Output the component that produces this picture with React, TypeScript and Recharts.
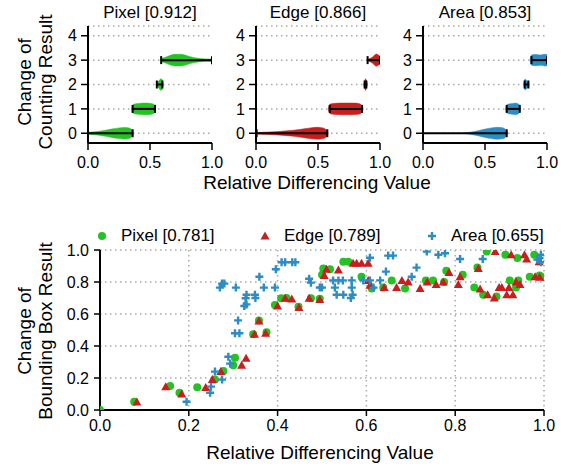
import { ComposedChart, ScatterChart, Scatter, Area, XAxis, YAxis, CartesianGrid } from 'recharts';

const FONT = '"Liberation Sans", Arial, Helvetica, sans-serif';
const GREEN = '#22c322';
const RED = '#c81e1e';
const BLUE = '#2b8dc4';
const GRID = '#aaaaaa';

const countLevels = [0, 1, 2, 3, 4];
const violinTicks = [0, 0.5, 1];
const scatterTicks = [0, 0.2, 0.4, 0.6, 0.8, 1];

// violin outlines: [relative differencing value, half width in count units]
const pixel0 = [[0, 0.04], [0.05, 0.06], [0.1, 0.09], [0.15, 0.13], [0.2, 0.18], [0.25, 0.22], [0.29, 0.24], [0.32, 0.23], [0.345, 0.18], [0.36, 0.1], [0.368, 0]];
const pixel1 = [[0.352, 0], [0.356, 0.12], [0.37, 0.19], [0.4, 0.22], [0.45, 0.24], [0.5, 0.23], [0.525, 0.2], [0.54, 0.13], [0.546, 0]];
const pixel2 = [[0.548, 0], [0.56, 0.08], [0.575, 0.17], [0.588, 0.24], [0.598, 0.2], [0.604, 0.1], [0.608, 0]];
const pixel3 = [[0.585, 0], [0.59, 0.06], [0.62, 0.11], [0.66, 0.19], [0.7, 0.24], [0.75, 0.24], [0.8, 0.18], [0.85, 0.11], [0.9, 0.07], [0.95, 0.05], [1, 0.05]];

const edge0 = [[0, 0.03], [0.1, 0.05], [0.2, 0.08], [0.3, 0.12], [0.4, 0.19], [0.45, 0.23], [0.5, 0.245], [0.54, 0.22], [0.565, 0.15], [0.578, 0.06], [0.582, 0]];
const edge1 = [[0.583, 0], [0.588, 0.12], [0.6, 0.2], [0.64, 0.23], [0.7, 0.24], [0.78, 0.24], [0.83, 0.22], [0.853, 0.15], [0.862, 0.06], [0.865, 0]];
const edge2 = [[0.868, 0], [0.876, 0.14], [0.883, 0.24], [0.89, 0.16], [0.898, 0]];
const edge3 = [[0.895, 0], [0.9, 0.04], [0.92, 0.07], [0.94, 0.13], [0.955, 0.2], [0.97, 0.25], [0.985, 0.22], [1, 0.16]];

const area0 = [[0.32, 0], [0.36, 0.03], [0.4, 0.06], [0.45, 0.11], [0.5, 0.17], [0.55, 0.22], [0.6, 0.245], [0.64, 0.23], [0.665, 0.16], [0.678, 0.06], [0.682, 0]];
const area1 = [[0.666, 0], [0.672, 0.12], [0.69, 0.2], [0.72, 0.22], [0.745, 0.24], [0.765, 0.21], [0.78, 0.14], [0.789, 0]];
const area2 = [[0.812, 0], [0.816, 0.14], [0.824, 0.22], [0.836, 0.17], [0.848, 0.09], [0.858, 0]];
const area3 = [[0.864, 0], [0.868, 0.14], [0.88, 0.22], [0.91, 0.23], [0.95, 0.21], [0.98, 0.24], [1, 0.23]];

// whisker [min, max] per count level
const pixelWhiskers = [[0, 0.36], [0.36, 0.54], [0.555, 0.6], [0.59, 1]];
const edgeWhiskers = [[0.005, 0.575], [0.595, 0.855], [0.876, 0.89], [0.9, 1]];
const areaWhiskers = [[0, 0.675], [0.675, 0.78], [0.82, 0.85], [0.875, 1]];

// bounding box scatter: [relative differencing value, change]
const pixelPoints = [
  [0, 0], [0.077, 0.052], [0.158, 0.15], [0.179, 0.108], [0.219, 0.142], [0.259, 0.19], [0.278, 0.244],
  [0.3, 0.28], [0.304, 0.327], [0.345, 0.473], [0.358, 0.56], [0.375, 0.486], [0.394, 0.656], [0.408, 0.698],
  [0.42, 0.7], [0.447, 0.646], [0.475, 0.698], [0.495, 0.696], [0.5, 0.845], [0.503, 0.885], [0.518, 0.88],
  [0.548, 0.927], [0.559, 0.927], [0.589, 0.833], [0.612, 0.76], [0.638, 0.765], [0.657, 0.81], [0.687, 0.76],
  [0.734, 0.81], [0.75, 0.81], [0.775, 0.8], [0.78, 0.87], [0.817, 0.845], [0.843, 0.765], [0.85, 0.89],
  [0.863, 0.72], [0.871, 0.99], [0.893, 0.71], [0.913, 0.97], [0.923, 0.81], [0.937, 0.765], [0.94, 0.95],
  [0.942, 0.81], [0.968, 0.833], [0.978, 0.97], [0.99, 0.84], [1, 0.83],
];
const edgePoints = [
  [0.083, 0.05], [0.148, 0.146], [0.184, 0.1], [0.238, 0.14], [0.253, 0.19], [0.272, 0.24], [0.319, 0.28],
  [0.329, 0.323], [0.348, 0.473], [0.358, 0.556], [0.373, 0.48], [0.4, 0.65], [0.417, 0.698], [0.432, 0.694],
  [0.448, 0.64], [0.471, 0.698], [0.495, 0.69], [0.505, 0.84], [0.51, 0.88], [0.537, 0.875], [0.57, 0.917],
  [0.578, 0.917], [0.589, 0.917], [0.604, 0.917], [0.604, 0.81], [0.608, 0.78], [0.64, 0.765], [0.668, 0.765],
  [0.68, 0.81], [0.694, 0.8], [0.721, 0.76], [0.737, 0.8], [0.757, 0.785], [0.773, 0.8], [0.786, 0.86],
  [0.807, 0.785], [0.811, 0.833], [0.852, 0.885], [0.856, 0.756], [0.873, 0.72], [0.888, 0.7], [0.89, 0.99],
  [0.899, 0.765], [0.905, 0.765], [0.916, 0.72], [0.921, 0.765], [0.926, 0.97], [0.93, 0.72], [0.937, 0.8],
  [0.946, 0.785], [0.956, 0.97], [0.961, 0.944], [0.98, 0.833], [0.989, 0.927], [0.99, 0.83],
];
const areaPoints = [
  [0.195, 0.052], [0.248, 0.108], [0.25, 0.146], [0.259, 0.24], [0.275, 0.19], [0.289, 0.333], [0.293, 0.29],
  [0.304, 0.48], [0.314, 0.48], [0.311, 0.56], [0.325, 0.65], [0.33, 0.66], [0.328, 0.698], [0.33, 0.72],
  [0.349, 0.72], [0.35, 0.7], [0.27, 0.765], [0.275, 0.79], [0.28, 0.79], [0.306, 0.765], [0.359, 0.833],
  [0.369, 0.765], [0.394, 0.765], [0.396, 0.88], [0.409, 0.923], [0.417, 0.923], [0.433, 0.923], [0.44, 0.923],
  [0.471, 0.82], [0.475, 0.796], [0.495, 0.766], [0.5, 0.765], [0.525, 0.81], [0.529, 0.765], [0.533, 0.72],
  [0.537, 0.81], [0.547, 0.81], [0.548, 0.72], [0.565, 0.7], [0.567, 0.81], [0.567, 0.765], [0.569, 0.72],
  [0.593, 0.81], [0.608, 0.81], [0.608, 0.952], [0.616, 0.765], [0.631, 0.81], [0.644, 0.865], [0.649, 0.965],
  [0.66, 0.965], [0.702, 0.833], [0.713, 0.89], [0.736, 0.99], [0.762, 0.97], [0.777, 0.98], [0.811, 0.944],
  [0.862, 0.944], [0.985, 0.94], [0.99, 0.95], [0.993, 0.97], [0.993, 0.923],
];

const axisLine = { stroke: '#000', strokeWidth: 2 };
const tickLine = { stroke: '#000', strokeWidth: 1.5 };

const Cap = (props: any) => {
  const { cx, cy } = props;
  return <line x1={cx} x2={cx} y1={cy - 4} y2={cy + 4} stroke="#000" strokeWidth={2} />;
};

const CircleMark = (props: any) => <circle cx={props.cx} cy={props.cy} r={4} fill={GREEN} />;
const TriangleMark = (props: any) => {
  const { cx, cy } = props;
  return <polygon points={`${cx},${cy - 4.5} ${cx - 4.5},${cy + 3.5} ${cx + 4.5},${cy + 3.5}`} fill={RED} />;
};
const PlusMark = (props: any) => {
  const { cx, cy } = props;
  return <path d={`M${cx - 4},${cy}H${cx + 4}M${cx},${cy - 4}V${cy + 4}`} stroke={BLUE} strokeWidth={2.4} fill="none" />;
};

function ViolinPanel({ title, color, shapes, whiskers, left }: any) {
  const rows = shapes.flatMap((shape: number[][], lvl: number) =>
    shape.map(([x, w]) => ({ x, ['v' + lvl]: [lvl - w, lvl + w] }))
  );
  return (
    <div style={{ position: 'absolute', left, top: 0 }}>
      <div style={{ position: 'absolute', left: 30, top: 3, width: 124, display: 'flex', justifyContent: 'center', fontSize: 17, lineHeight: '20px', whiteSpace: 'nowrap' }}>
        {title}
      </div>
      <ComposedChart width={166} height={172} data={rows} margin={{ top: 26, right: 12, left: 8, bottom: 4 }}>
        <CartesianGrid vertical={false} stroke={GRID} strokeDasharray="1.5 3.5" strokeWidth={1.5} />
        <XAxis dataKey="x" type="number" domain={[0, 1]} ticks={violinTicks} allowDataOverflow
          tickFormatter={(v: number) => v.toFixed(1)} tickSize={7} tickMargin={7} height={25}
          axisLine={axisLine} tickLine={tickLine} tick={{ fill: '#000', fontSize: 16, fontFamily: FONT }} />
        <XAxis xAxisId="top" orientation="top" height={0} tick={false} tickLine={false} axisLine={axisLine} />
        <YAxis dataKey="y" type="number" domain={[-0.4, 4.4]} ticks={countLevels} allowDataOverflow
          tickSize={7} tickMargin={4} width={22}
          axisLine={axisLine} tickLine={tickLine} tick={{ fill: '#000', fontSize: 16, fontFamily: FONT }} />
        <YAxis yAxisId="right" orientation="right" width={0} tick={false} tickLine={false} axisLine={axisLine} />
        {shapes.map((_: any, lvl: number) => (
          <Area key={'a' + lvl} dataKey={'v' + lvl} type="monotone" fill={color} fillOpacity={1}
            stroke={color} strokeWidth={0.5} dot={false} activeDot={false} isAnimationActive={false} />
        ))}
        {whiskers.map(([lo, hi]: number[], lvl: number) => (
          <Scatter key={'w' + lvl} data={[{ x: lo, y: lvl }, { x: hi, y: lvl }]}
            line={{ stroke: '#000', strokeWidth: 2 }} shape={Cap} isAnimationActive={false} />
        ))}
      </ComposedChart>
    </div>
  );
}

const toXY = (pts: number[][]) => pts.map(([x, y]) => ({ x, y }));

function RotatedLabel({ cx, cy, lines }: any) {
  return (
    <div style={{
      position: 'absolute', left: cx, top: cy, transform: 'translate(-50%, -50%) rotate(-90deg)',
      fontSize: 19, lineHeight: '21px', textAlign: 'center', whiteSpace: 'nowrap',
    }}>
      {lines.map((l: string) => <div key={l}>{l}</div>)}
    </div>
  );
}

function XLabel({ cx, top }: any) {
  return (
    <div style={{ position: 'absolute', left: cx - 200, top, width: 400, display: 'flex', justifyContent: 'center', fontSize: 19, lineHeight: '19px', whiteSpace: 'nowrap' }}>
      Relative Differencing Value
    </div>
  );
}

function LegendItem({ left, label, children }: any) {
  return (
    <div style={{ position: 'absolute', left, top: 226, display: 'flex', alignItems: 'center', fontSize: 17, lineHeight: '20px', whiteSpace: 'nowrap' }}>
      <svg width={12} height={12} style={{ marginRight: 13 }}>{children}</svg>
      <span>{label}</span>
    </div>
  );
}

export default function App() {
  return (
    <div style={{ position: 'absolute', left: 0, top: 0, width: 567, height: 467, background: '#fff', fontFamily: FONT, color: '#000', overflow: 'hidden' }}>
      <ViolinPanel title="Pixel [0.912]" color={GREEN} shapes={[pixel0, pixel1, pixel2, pixel3]} whiskers={pixelWhiskers} left={58} />
      <ViolinPanel title="Edge [0.866]" color={RED} shapes={[edge0, edge1, edge2, edge3]} whiskers={edgeWhiskers} left={226} />
      <ViolinPanel title="Area [0.853]" color={BLUE} shapes={[area0, area1, area2, area3]} whiskers={areaWhiskers} left={393} />
      <RotatedLabel cx={35} cy={82} lines={['Change of', 'Counting Result']} />
      <XLabel cx={317} top={173} />

      <LegendItem left={96} label="Pixel [0.781]"><circle cx={6} cy={6} r={4} fill={GREEN} /></LegendItem>
      <LegendItem left={259} label="Edge [0.789]"><polygon points="6,1.5 1.5,9.5 10.5,9.5" fill={RED} /></LegendItem>
      <LegendItem left={426} label="Area [0.655]"><path d="M2,6H10M6,2V10" stroke={BLUE} strokeWidth={2.4} /></LegendItem>

      <div style={{ position: 'absolute', left: 0, top: 240 }}>
        <ScatterChart width={567} height={227} margin={{ top: 10, right: 23, left: 60, bottom: 27 }}>
          <CartesianGrid stroke={GRID} strokeDasharray="1.5 3.5" strokeWidth={1.5} />
          <XAxis dataKey="x" type="number" domain={[0, 1]} ticks={scatterTicks} allowDataOverflow
            tickFormatter={(v: number) => v.toFixed(1)} tickSize={6} tickMargin={4} height={30}
            axisLine={axisLine} tickLine={tickLine} tick={{ fill: '#000', fontSize: 16, fontFamily: FONT }} />
          <XAxis xAxisId="top" orientation="top" height={0} tick={false} tickLine={false} axisLine={axisLine} />
          <YAxis dataKey="y" type="number" domain={[0, 1]} ticks={scatterTicks} allowDataOverflow
            tickFormatter={(v: number) => v.toFixed(1)} tickSize={6} tickMargin={5} width={40}
            axisLine={axisLine} tickLine={tickLine} tick={{ fill: '#000', fontSize: 16, fontFamily: FONT }} />
          <YAxis yAxisId="right" orientation="right" width={0} tick={false} tickLine={false} axisLine={axisLine} />
          <Scatter data={toXY(pixelPoints)} shape={CircleMark} isAnimationActive={false} />
          <Scatter data={toXY(edgePoints)} shape={TriangleMark} isAnimationActive={false} />
          <Scatter data={toXY(areaPoints)} shape={PlusMark} isAnimationActive={false} />
        </ScatterChart>
      </div>
      <RotatedLabel cx={35} cy={331} lines={['Change of', 'Bounding Box Result']} />
      <XLabel cx={320} top={443} />
    </div>
  );
}
